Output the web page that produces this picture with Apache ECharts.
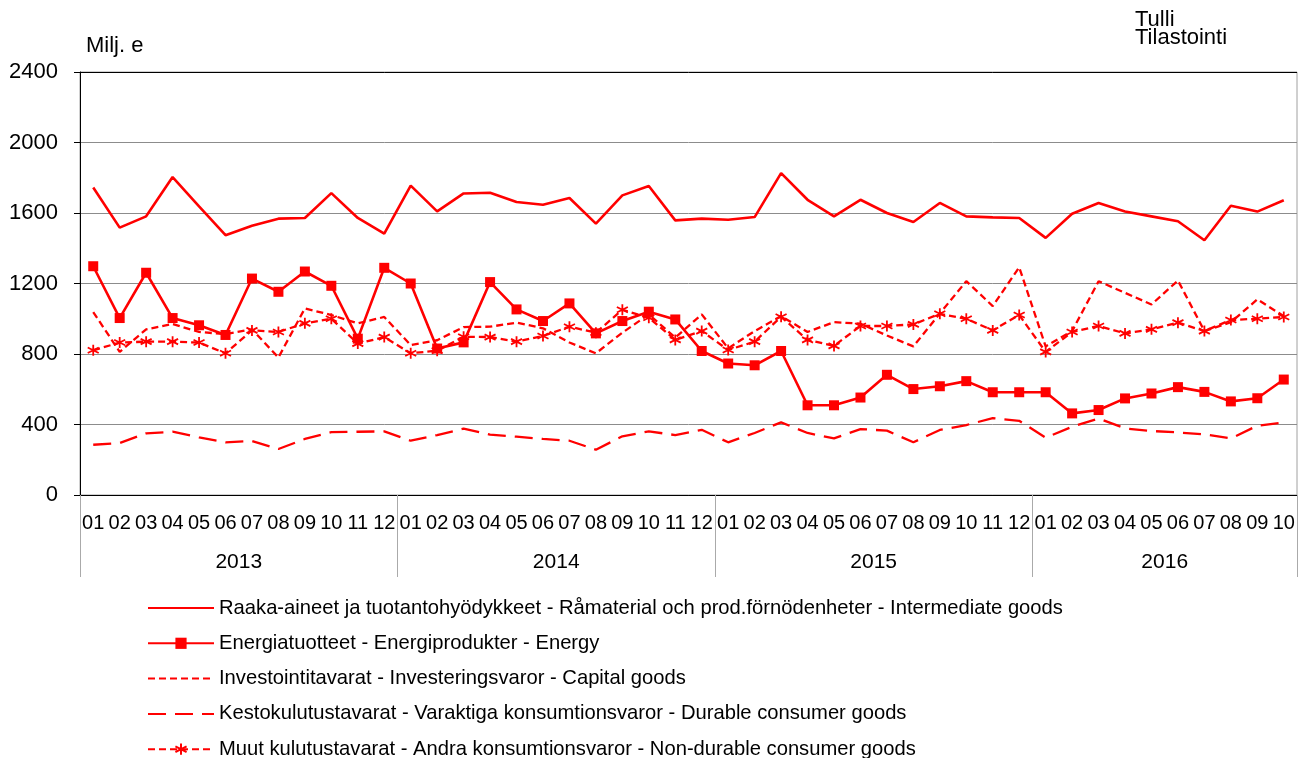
<!DOCTYPE html>
<html>
<head>
<meta charset="utf-8">
<script src="https://cdn.jsdelivr.net/npm/echarts@6/dist/echarts.min.js"></script>
<style>html,body{margin:0;padding:0;background:#fff}#c{width:1312px;height:758px}</style>
</head>
<body>
<div id="c"></div>
<script>
const monthLabels = ['01','02','03','04','05','06','07','08','09','10','11','12',
  '01','02','03','04','05','06','07','08','09','10','11','12',
  '01','02','03','04','05','06','07','08','09','10','11','12',
  '01','02','03','04','05','06','07','08','09','10'];
const years = ['2013','2014','2015','2016'];
const monthsPerYear = [12,12,12,10];
const yTicks = [0,400,800,1200,1600,2000,2400];

const seriesNames = [
  'Raaka-aineet ja tuotantohyödykkeet - Råmaterial och prod.förnödenheter - Intermediate goods',
  'Energiatuotteet - Energiprodukter - Energy',
  'Investointitavarat - Investeringsvaror - Capital goods',
  'Kestokulutustavarat - Varaktiga konsumtionsvaror - Durable consumer goods',
  'Muut kulutustavarat - Andra konsumtionsvaror - Non-durable consumer goods'
];

const intermediate = [1745,1517,1581,1804,1638,1474,1528,1568,1572,1713,1572,1483,
  1755,1609,1711,1715,1662,1647,1685,1540,1700,1753,1558,1568,
  1562,1577,1826,1675,1581,1675,1600,1549,1657,1581,1575,1572,
  1459,1596,1657,1609,1581,1553,1445,1641,1608,1672];
const energy = [1298,1004,1261,1004,963,908,1228,1153,1268,1187,887,1289,
  1200,831,866,1208,1053,987,1087,917,987,1040,996,817,
  746,736,817,509,509,553,682,601,617,646,583,583,
  583,463,482,548,576,612,585,531,549,655];
const capital = [1038,812,940,970,925,913,940,780,1059,1021,974,1010,
  851,878,953,955,978,946,865,804,921,1025,893,1025,
  832,930,1015,925,981,972,905,843,1030,1213,1072,1292,
  843,930,1213,1147,1081,1217,930,980,1110,1015];
const durable = [285,295,350,359,327,299,306,261,318,357,359,361,
  308,340,376,342,331,318,308,257,333,361,340,370,
  299,352,412,352,321,374,365,299,369,397,436,421,
  325,387,434,378,363,355,344,321,393,412];
const nondurable = [821,865,870,870,865,804,934,925,974,1000,859,896,
  804,819,898,896,870,902,955,921,1051,1006,880,930,
  823,870,1011,880,846,959,959,968,1028,1000,934,1021,
  812,925,959,917,940,978,930,993,1000,1010];

// year boundaries and centres derived from months per year
const yearBounds = [0];
monthsPerYear.forEach(n => yearBounds.push(yearBounds[yearBounds.length-1] + n));
const yearCenters = monthsPerYear.map((n,i) => yearBounds[i] + n/2);
const totalMonths = yearBounds[yearBounds.length-1];

const FONT = '"Liberation Sans", Arial, sans-serif';
const RED = '#ff0000';
const asterisk = 'path://M5,0L5,10M0.7,2.5L9.3,7.5M9.3,2.5L0.7,7.5';
const hiddenSymbol = {opacity: 0, color: 'rgba(0,0,0,0)'};

const chart = echarts.init(document.getElementById('c'), null, {renderer:'canvas'});
chart.setOption({
  animation: false,
  backgroundColor: '#fff',
  textStyle: {fontFamily: FONT, color: '#000'},
  title: {
    text: 'Tulli\nTilastointi',
    left: 1135, top: 11, padding: 0,
    textStyle: {fontFamily: FONT, fontSize: 22, fontWeight: 'normal', lineHeight: 18, color: '#000'}
  },
  grid: {left: 80, right: 15, top: 72, bottom: 263, show: true, borderColor: '#a0a0a0', borderWidth: 1, containLabel: false},
  legend: {
    orient: 'vertical', left: 147, top: 598, padding: 0, height: 200,
    itemWidth: 66, itemHeight: 14, itemGap: 15.3,
    textStyle: {fontFamily: FONT, fontSize: 20.2, color: '#000'},
    data: [
      {name: seriesNames[0], itemStyle: hiddenSymbol},
      {name: seriesNames[1]},
      {name: seriesNames[2], itemStyle: hiddenSymbol},
      {name: seriesNames[3], itemStyle: hiddenSymbol},
      {name: seriesNames[4]}
    ]
  },
  xAxis: [
    {
      type: 'category', data: monthLabels, boundaryGap: true, position: 'bottom',
      axisLine: {lineStyle: {color: '#000', width: 1}},
      axisTick: {interval: 0, length: 41, lineStyle: {color: '#777'}},
      axisLabel: {interval: 0, margin: 18, fontSize: 20, color: '#000', fontFamily: FONT},
      splitLine: {show: false}
    },
    {
      type: 'value', min: 0, max: totalMonths, position: 'bottom',
      axisLine: {show: false},
      axisTick: {show: true, customValues: yearBounds, length: 82, lineStyle: {color: '#aaa'}},
      axisLabel: {customValues: yearCenters, margin: 57, fontSize: 21, color: '#000', fontFamily: FONT,
        formatter: v => years[yearCenters.indexOf(v)] || ''},
      splitLine: {show: false}
    }
  ],
  yAxis: {
    type: 'value', min: yTicks[0], max: yTicks[yTicks.length-1], interval: 400,
    name: 'Milj. e', nameLocation: 'end', nameGap: 15,
    nameTextStyle: {fontSize: 22, align: 'left', color: '#000', fontFamily: FONT, padding: [0,0,0,6]},
    axisLine: {show: true, lineStyle: {color: '#000', width: 1}},
    axisTick: {show: true, length: 6, lineStyle: {color: '#000'}},
    axisLabel: {fontSize: 22, margin: 22, color: '#000', fontFamily: FONT, formatter: v => String(v)},
    splitLine: {show: true, lineStyle: {color: ['#000','#8c8c8c','#8c8c8c','#8c8c8c','#8c8c8c','#8c8c8c','#000'], width: 1}}
  },
  series: [
    {name: seriesNames[0], type: 'line', data: intermediate, symbol: 'none',
      lineStyle: {color: RED, width: 2.6}, itemStyle: {color: RED}},
    {name: seriesNames[1], type: 'line', data: energy, symbol: 'rect', symbolSize: 10,
      lineStyle: {color: RED, width: 2.6}, itemStyle: {color: RED}},
    {name: seriesNames[2], type: 'line', data: capital, symbol: 'none',
      lineStyle: {color: RED, width: 2.3, type: [7,4]}, itemStyle: {color: RED}},
    {name: seriesNames[3], type: 'line', data: durable, symbol: 'none',
      lineStyle: {color: RED, width: 2.3, type: [18,9]}, itemStyle: {color: RED}},
    {name: seriesNames[4], type: 'line', data: nondurable, symbol: asterisk, symbolSize: 11,
      lineStyle: {color: RED, width: 2.3, type: [7,4]},
      itemStyle: {color: RED, borderColor: RED, borderWidth: 1.8}}
  ]
});
</script>
</body>
</html>
